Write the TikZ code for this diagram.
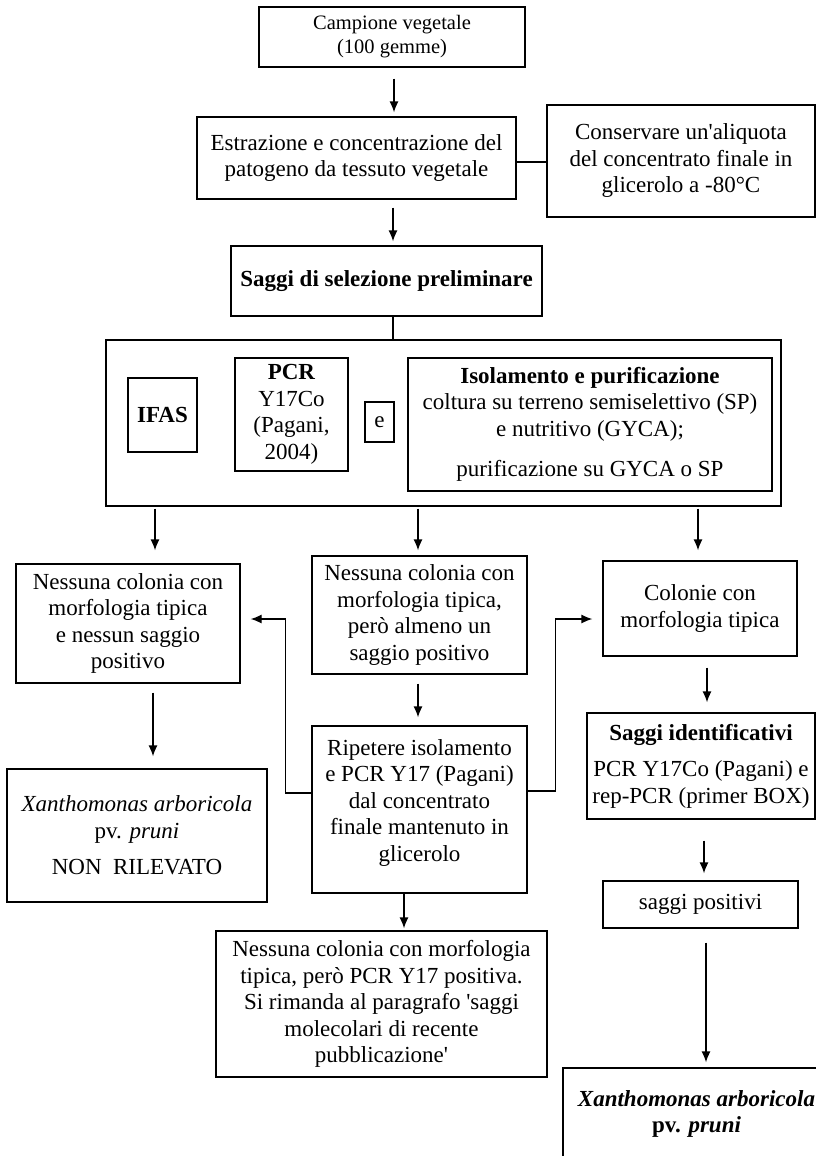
\documentclass[tikz,border=0pt]{standalone}
\usepackage{fontspec}
\setmainfont{Liberation Serif}
\usetikzlibrary{arrows.meta,calc}
\begin{document}
\begin{tikzpicture}[x=1pt,y=-1pt,
  box/.style={draw,line width=1.3pt,align=center,inner sep=0pt,font=\fontsize{23}{26.5}\selectfont},
  arr/.style={line width=1.3pt,-{Latex[length=11pt,width=9pt]}},
  ln/.style={line width=1.3pt}]
\useasboundingbox (0,0) rectangle (816,1156);

% top chain
\node[box, minimum width=266pt, minimum height=60pt, font=\fontsize{20.5}{24}\selectfont] (b1) at (392,37) {Campione vegetale\\(100 gemme)};
\node[box, minimum width=319pt, minimum height=82pt] (b2) at (356.5,158) {Estrazione e concentrazione del\\patogeno da tessuto vegetale};
\node[box, minimum width=268pt, minimum height=112pt] (b3) at (681,161) {Conservare un\textquotesingle aliquota\\del concentrato finale in\\glicerolo a -80°C};
\node[box, minimum width=311pt, minimum height=70pt] (b4) at (386.5,281) {\textbf{Saggi di selezione preliminare}};

% big box with screening tests
\node[box, minimum width=675pt, minimum height=166pt] (big) at (443.5,423) {};
\node[box, minimum width=69pt, minimum height=74pt] (ifas) at (162.5,415) {\textbf{IFAS}};
\node[box, minimum width=113pt, minimum height=113pt] (pcr) at (291.5,414.5) {\textbf{PCR}\\Y17Co\\(Pagani,\\2004)};
\node[box, minimum width=29pt, minimum height=40pt] (e) at (379.5,422) {e};
\node[box, minimum width=364pt, minimum height=133pt] (iso) at (590,424.5) {\textbf{Isolamento e purificazione}\\coltura su terreno semiselettivo (SP)\\e nutritivo (GYCA);\\[14pt]purificazione su GYCA o SP};

% outcomes
\node[box, minimum width=224pt, minimum height=119pt] (l1) at (128,623.5) {Nessuna colonia con\\morfologia tipica\\e nessun saggio\\positivo};
\node[box, minimum width=215pt, minimum height=118pt] (m1) at (419.5,615) {Nessuna colonia con\\morfologia tipica,\\però almeno un\\saggio positivo};
\node[box, minimum width=194pt, minimum height=95pt] (r1) at (700,608.5) {Colonie con\\morfologia tipica};

\node[box, minimum width=260pt, minimum height=133pt] (l2) at (137,835.5) {\textit{Xanthomonas arboricola}\\pv. \textit{pruni}\\[10pt]NON\ \ RILEVATO};
\node[box, minimum width=215pt, minimum height=167pt] (m2) at (419.5,809.5) {Ripetere isolamento\\e PCR Y17 (Pagani)\\dal concentrato\\finale mantenuto in\\glicerolo\\[-8pt]\mbox{}};
\node[box, minimum width=228pt, minimum height=106pt] (r2) at (701,766) {\textbf{Saggi identificativi}\\[10pt]PCR Y17Co (Pagani) e\\rep-PCR (primer BOX)};

\node[box, minimum width=331pt, minimum height=146pt] (m3) at (381.5,1004) {Nessuna colonia con morfologia\\tipica, però PCR Y17 positiva.\\Si rimanda al paragrafo \textquotesingle saggi\\molecolari di recente\\pubblicazione\textquotesingle};
\node[box, minimum width=195pt, minimum height=47pt] (r3) at (700.5,904.5) {saggi positivi};
\node[box, minimum width=267pt, minimum height=92pt] (r4) at (696.5,1114) {\textbf{\textit{Xanthomonas arboricola}}\\\textbf{pv. \textit{pruni}}};

% connectors
\coordinate (s1) at ($(b1.south)+(2,11)$);
\draw[arr, shorten >=4pt] (s1) -- (s1 |- b2.north);
\coordinate (s2) at ($(b2.south)+(36.5,8)$);
\draw[arr, shorten >=4pt] (s2) -- (s2 |- b4.north);
\coordinate (s3) at ($(b4.south)+(6.5,0)$);
\draw[ln] (s3) -- (s3 |- big.north);
\coordinate (s4) at ($(b2.east)+(0,4)$);
\draw[ln] (s4) -- (s4 -| b3.west);

\coordinate (s5) at ($(big.south)+(-288.5,2)$);
\draw[arr, shorten >=13pt] (s5) -- (s5 |- l1.north);
\coordinate (s6) at ($(big.south)+(-25.5,2)$);
\draw[arr, shorten >=5pt] (s6) -- (s6 |- m1.north);
\coordinate (s7) at ($(big.south)+(254.5,2)$);
\draw[arr, shorten >=10pt] (s7) -- (s7 |- r1.north);

\coordinate (s8) at ($(m1.south)+(-1.5,9)$);
\draw[arr, shorten >=8pt] (s8) -- (s8 |- m2.north);
\coordinate (s9) at ($(l1.south)+(25,9)$);
\draw[arr, shorten >=12pt] (s9) -- (s9 |- l2.north);
\coordinate (s10) at ($(r1.south)+(7,11)$);
\draw[arr, shorten >=10pt] (s10) -- (s10 |- r2.north);
\coordinate (s11) at ($(m2.south)+(-15.5,0)$);
\draw[arr, shorten >=2pt] (s11) -- (s11 |- m3.north);
\coordinate (s12) at ($(r2.south)+(3,21)$);
\draw[arr, shorten >=7pt] (s12) -- (s12 |- r3.north);
\coordinate (s13) at ($(r3.south)+(5.5,14)$);
\draw[arr, shorten >=5pt] (s13) -- (s13 |- r4.north);

\draw[arr, shorten >=10pt] ($(m2.west)+(0,-16.5)$) -- ++(-26,0) |- ($(l1.east)+(0,-4.5)$);
\draw[arr, shorten >=10pt] ($(m2.east)+(0,-18.5)$) -- ++(28,0) |- ($(r1.west)+(0,10.5)$);
\end{tikzpicture}
\end{document}
